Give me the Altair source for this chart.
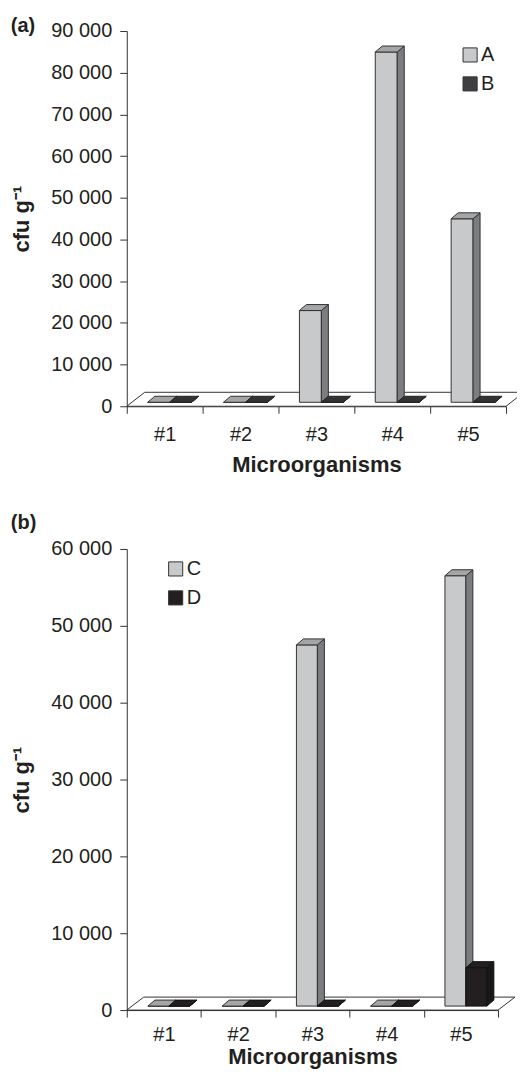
import altair as alt
import pandas as pd

cats = ["#1", "#2", "#3", "#4", "#5"]

a_series = ["A", "B"]
a_A = [0, 0, 22000, 84000, 44000]
a_B = [0, 0, 0, 0, 0]

b_series = ["C", "D"]
b_C = [0, 0, 47000, 0, 56000]
b_D = [0, 0, 0, 0, 5000]

a_ticks = [0, 10000, 20000, 30000, 40000, 50000, 60000, 70000, 80000, 90000]
b_ticks = [0, 10000, 20000, 30000, 40000, 50000, 60000]

FONT = "Liberation Sans"
INK = "#231f20"
EDGE = "#333333"

light = dict(front="#c8c9cb", side="#7c7d80", top="#a4a5a7", edge=EDGE)
darkB = dict(front="#3f3f41", side="#2a2a2b", top="#333335", edge="#222222")
darkD = dict(front="#231f20", side="#1a1718", top="#231f20", edge="#111111")


def panel(series, values, styles, ymax, ticks, W, H, title, toff, lx, ly,
          bar_px, fdx_px, fdy_px, lab_pad, tit_pad):
    ux = 5.0 / W
    uy = ymax / H
    bdx, bdy = 5 * ux, 4 * uy
    ddx, ddy = 7 * ux, 6 * uy
    bw = bar_px * ux
    ns = len(series)

    xscale = alt.Scale(domain=[0.5, 5.5], nice=False, zero=False)
    yscale = alt.Scale(domain=[0, ymax], nice=False, zero=True)
    yaxis = alt.Axis(values=ticks,
                     labelExpr="replace(format(datum.value, ','), ',', ' ')",
                     grid=False, tickSize=7, tickColor=EDGE, domainColor=EDGE,
                     labelFontSize=20, labelColor=INK, labelPadding=8,
                     title="cfu g\u207b\u00b9", titleFontSize=22,
                     titleFontWeight="bold", titleColor=INK, titlePadding=17)

    def Y(field):
        return alt.Y(field, type="quantitative", scale=yscale, axis=yaxis)

    def X(field):
        return alt.X(field, type="quantitative", scale=xscale, axis=None)

    # floor
    floor_df = pd.DataFrame({
        "y": [0, fdy_px * uy],
        "x": [0.5, 0.5 + fdx_px * ux],
        "x2": [5.5, 5.5 + fdx_px * ux],
    })
    floor = alt.Chart(floor_df).mark_area(
        orient="horizontal", fill="white", stroke=EDGE, strokeWidth=1
    ).encode(y=Y("y"), x=X("x"), x2="x2")

    layers = [floor]
    for s, name in enumerate(series):
        st = styles[s]
        fr, sd, tp = [], [], []
        for i, cat in enumerate(cats):
            v = values[s][i]
            c = i + 1
            xl = c - bw * ns / 2 + s * bw + bdx
            xr = xl + bw
            base = bdy
            top = v + bdy
            fr.append(dict(cat=cat, series=name, xl=xl, xr=xr, base=base, top=top))
            sd.append(dict(cat=cat, x=xr, y=top, y2=base))
            sd.append(dict(cat=cat, x=xr + ddx, y=top + ddy, y2=base + ddy))
            tp.append(dict(cat=cat, y=top, x=xl, x2=xr))
            tp.append(dict(cat=cat, y=top + ddy, x=xl + ddx, x2=xr + ddx))
        front = alt.Chart(pd.DataFrame(fr)).mark_rect(
            stroke=st["edge"], strokeWidth=1
        ).encode(
            x=X("xl"), x2="xr", y=Y("top"), y2="base",
            color=alt.Color("series:N",
                            scale=alt.Scale(domain=series,
                                            range=[x["front"] for x in styles]),
                            legend=alt.Legend(orient="none", legendX=lx, legendY=ly,
                                              title=None, symbolType="square",
                                              symbolSize=200,
                                              symbolStrokeColor=EDGE,
                                              symbolStrokeWidth=1,
                                              labelFontSize=20, labelColor=INK,
                                              labelFont=FONT,
                                              rowPadding=9, labelOffset=1)),
        )
        side = alt.Chart(pd.DataFrame(sd)).mark_area(
            orient="vertical", fill=st["side"], stroke=st["edge"], strokeWidth=1
        ).encode(x=X("x"), y=Y("y"), y2="y2", detail="cat:N")
        topf = alt.Chart(pd.DataFrame(tp)).mark_area(
            orient="horizontal", fill=st["top"], stroke=st["edge"], strokeWidth=1
        ).encode(y=Y("y"), x=X("x"), x2="x2", detail="cat:N")
        layers += [front, side, topf]

    geom = alt.layer(*layers)

    axis_layer = alt.Chart(pd.DataFrame({"cat": cats})).mark_point(
        opacity=0, size=1
    ).encode(
        x=alt.X("cat:N",
                scale=alt.Scale(type="band", domain=cats, paddingInner=0,
                                paddingOuter=0),
                axis=alt.Axis(title="Microorganisms", tickBand="extent",
                              labelAngle=0, tickSize=7, tickColor=EDGE,
                              domainColor=EDGE, labelFontSize=20,
                              labelColor=INK, labelPadding=lab_pad,
                              titleFontSize=22, titleFontWeight="bold",
                              titleColor=INK, titlePadding=tit_pad))
    )

    return alt.layer(axis_layer, geom).resolve_scale(x="independent").properties(
        width=W, height=H,
        title=alt.TitleParams(title, anchor="start", frame="bounds", fontSize=20,
                              fontWeight="bold", color=INK, font=FONT,
                              offset=toff),
    )


pa = panel(a_series, [a_A, a_B], [light, darkB], 90000, a_ticks, 380, 376,
           "(a)", -15, 334, 14, 22, 18, 14, 11, 10)
pb = panel(b_series, [b_C, b_D], [light, darkD], 60000, b_ticks, 372, 462,
           "(b)", 6, 39, 10, 21, 17, 13, 7, 3)

chart = alt.vconcat(pa, pb, spacing=38).resolve_scale(
    color="independent", y="independent", x="independent"
).resolve_legend(color="independent").properties(
    padding={"left": 2, "top": 7, "right": -9, "bottom": 0}
).configure(font=FONT).configure_view(stroke="transparent", strokeWidth=0)

chart.save("out.html", embed_options={"renderer": "svg", "actions": False})
